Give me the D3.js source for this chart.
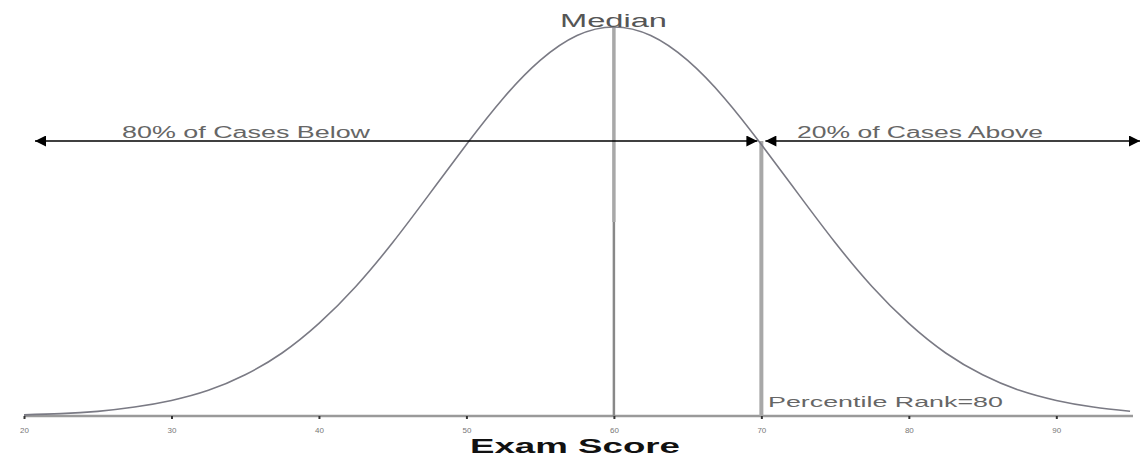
<!DOCTYPE html>
<html>
<head>
<meta charset="utf-8">
<script src="https://cdn.jsdelivr.net/npm/d3@7"></script>
<style>
  body { margin: 0; background: #fff; }
  text { font-family: "Liberation Sans", Arial, sans-serif; }
</style>
</head>
<body>
<div id="chart"></div>
<script>
// exam scores along the curve and relative height of the curve (peak = 1)
const scores = [20, 22.5, 25, 27.5, 30, 32.5, 35, 37.5, 40, 42.5, 45, 47.5, 50, 52.5, 55, 57.5,
  60, 62.5, 65, 67.5, 70, 72.5, 75, 77.5, 80, 82.5, 85, 87.5, 90, 92.5, 95];
const heights = [0.003, 0.006, 0.012, 0.023, 0.040, 0.066, 0.106, 0.162, 0.238, 0.333, 0.446, 0.571, 0.698, 0.817, 0.914, 0.978,
  1.0, 0.978, 0.914, 0.817, 0.698, 0.571, 0.446, 0.333, 0.238, 0.162, 0.106, 0.066, 0.040, 0.023, 0.012];
const tickValues = [20, 30, 40, 50, 60, 70, 80, 90];
const medianScore = 60;
const percentileScore = 70;
const percentileRank = 80;
const labelBelow = "80% of Cases Below";
const labelAbove = "20% of Cases Above";

const width = 1141, height = 458;
const svg = d3.select("#chart").append("svg")
  .attr("width", width)
  .attr("height", height);

const x = d3.scaleLinear().domain([20, 95.2]).range([24, 1133]);
const y = d3.scaleLinear().domain([0, 1]).range([416, 27]);

const data = scores.map((s, i) => ({ score: s, h: heights[i] }));

// arrow markers
const defs = svg.append("defs");
defs.append("marker").attr("id", "arrowEnd")
  .attr("viewBox", "0 0 10 10").attr("refX", 10).attr("refY", 5)
  .attr("markerWidth", 14).attr("markerHeight", 11).attr("markerUnits", "userSpaceOnUse")
  .attr("orient", "auto")
  .append("path").attr("d", "M0,0L10,5L0,10Z").attr("fill", "#000");
defs.append("marker").attr("id", "arrowStart")
  .attr("viewBox", "0 0 10 10").attr("refX", 0).attr("refY", 5)
  .attr("markerWidth", 14).attr("markerHeight", 11).attr("markerUnits", "userSpaceOnUse")
  .attr("orient", "auto")
  .append("path").attr("d", "M10,0L0,5L10,10Z").attr("fill", "#000");

// x axis
svg.append("line")
  .attr("x1", x(20)).attr("x2", x(95.2))
  .attr("y1", y(0)).attr("y2", y(0))
  .attr("stroke", "#9a9a9a").attr("stroke-width", 2.5);

const axis = svg.append("g")
  .attr("transform", `translate(0,${y(0)})`)
  .call(d3.axisBottom(x).tickValues(tickValues).tickSize(3).tickPadding(8));
axis.select(".domain").remove();
axis.selectAll(".tick line").attr("stroke", "#333").attr("stroke-width", 2);
axis.selectAll(".tick text")
  .attr("fill", "#777").attr("font-size", 8)
  .attr("font-family", "Liberation Sans, Arial, sans-serif");

svg.append("text")
  .attr("x", 470).attr("y", 453)
  .attr("textLength", 210).attr("lengthAdjust", "spacingAndGlyphs")
  .attr("font-size", 21).attr("font-weight", "bold").attr("fill", "#111")
  .text("Exam Score");

// median line
svg.append("line")
  .attr("x1", x(medianScore)).attr("x2", x(medianScore))
  .attr("y1", y(1)).attr("y2", 222)
  .attr("stroke", "#a8a8a8").attr("stroke-width", 3.5);
svg.append("line")
  .attr("x1", x(medianScore)).attr("x2", x(medianScore))
  .attr("y1", 222).attr("y2", y(0))
  .attr("stroke", "#888").attr("stroke-width", 2.5);

// percentile line
svg.append("line")
  .attr("x1", x(percentileScore)).attr("x2", x(percentileScore))
  .attr("y1", 141).attr("y2", y(0))
  .attr("stroke", "#a8a8a8").attr("stroke-width", 4);

// distribution curve
const line = d3.line()
  .x(d => x(d.score))
  .y(d => y(d.h))
  .curve(d3.curveNatural);
svg.append("path")
  .datum(data)
  .attr("fill", "none")
  .attr("stroke", "#7a7a84")
  .attr("stroke-width", 1.6)
  .attr("d", line);

// arrows
const arrowY = 141;
svg.append("line")
  .attr("x1", 35).attr("x2", x(percentileScore) - 4)
  .attr("y1", arrowY).attr("y2", arrowY)
  .attr("stroke", "#000").attr("stroke-width", 1.6)
  .attr("marker-start", "url(#arrowStart)").attr("marker-end", "url(#arrowEnd)");
svg.append("line")
  .attr("x1", x(percentileScore) + 4).attr("x2", 1140)
  .attr("y1", arrowY).attr("y2", arrowY)
  .attr("stroke", "#000").attr("stroke-width", 1.6)
  .attr("marker-start", "url(#arrowStart)").attr("marker-end", "url(#arrowEnd)");

svg.append("text")
  .attr("x", 122).attr("y", 138)
  .attr("textLength", 248).attr("lengthAdjust", "spacingAndGlyphs")
  .attr("font-size", 16).attr("fill", "#666")
  .text(labelBelow);
svg.append("text")
  .attr("x", 797).attr("y", 138)
  .attr("textLength", 246).attr("lengthAdjust", "spacingAndGlyphs")
  .attr("font-size", 16).attr("fill", "#666")
  .text(labelAbove);

svg.append("text")
  .attr("x", 560).attr("y", 27)
  .attr("textLength", 107).attr("lengthAdjust", "spacingAndGlyphs")
  .attr("font-size", 18).attr("fill", "#555")
  .text("Median");

svg.append("text")
  .attr("x", 768).attr("y", 407)
  .attr("textLength", 235).attr("lengthAdjust", "spacingAndGlyphs")
  .attr("font-size", 15).attr("fill", "#666")
  .text(`Percentile Rank=${percentileRank}`);
</script>
</body>
</html>
